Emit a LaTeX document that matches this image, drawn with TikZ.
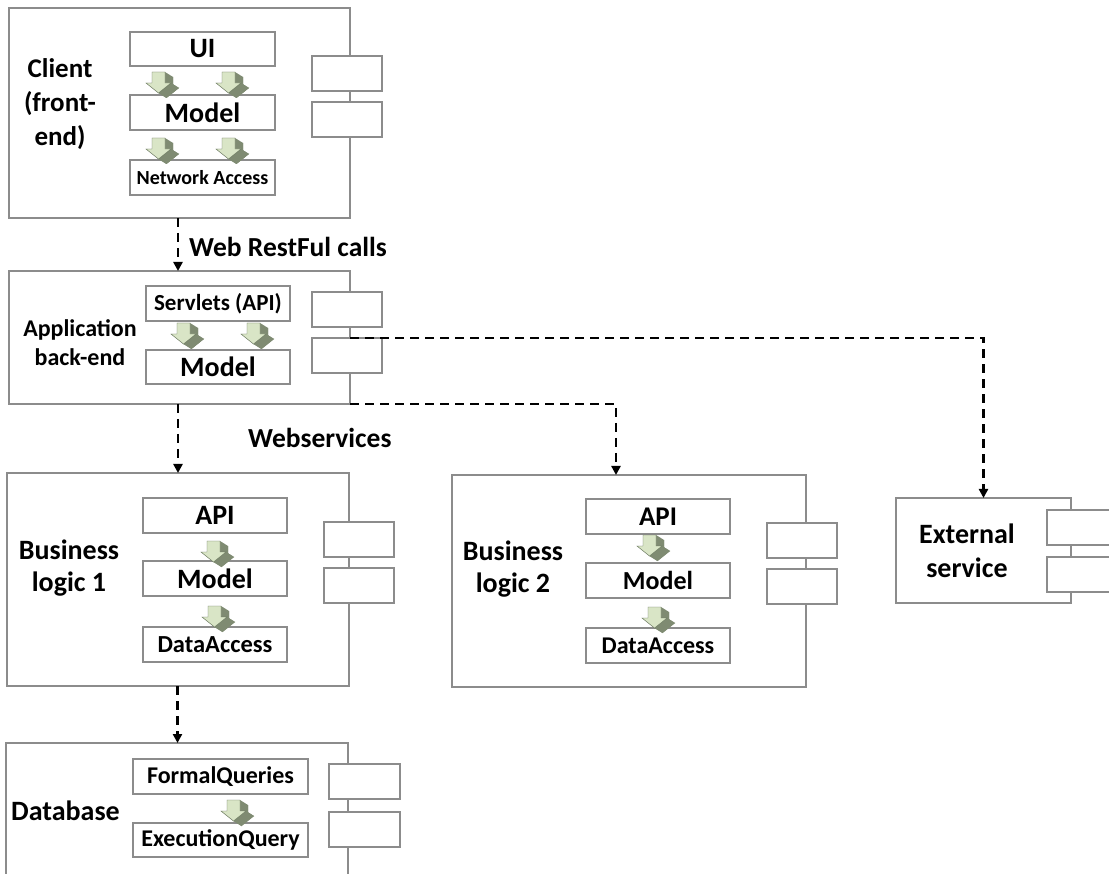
\documentclass[tikz,border=0pt]{standalone}
\usepackage{fontspec}
\setmainfont{Carlito}
\usetikzlibrary{arrows.meta}
\definecolor{boxgray}{HTML}{8C8C8C}
\definecolor{arrlight}{HTML}{D9E5C6}
\definecolor{arrdark}{HTML}{7F8B72}
\definecolor{arredge}{HTML}{65735A}
\tikzset{
  comp/.style={draw=boxgray, line width=1.3pt, fill=white, anchor=north west, inner sep=0pt, outer sep=0pt},
  port/.style={draw=boxgray, line width=1.2pt, fill=white, anchor=north west, inner sep=0pt, outer sep=0pt, minimum width=70pt, minimum height=35pt},
  layer/.style={draw=boxgray, line width=1.2pt, fill=white, anchor=north west, inner sep=0pt, outer sep=0pt, font=\bfseries, text=black},
  biglabel/.style={font=\bfseries\fontsize{27}{34}\selectfont, align=center, inner sep=0pt},
  conn/.style={line width=2.8pt, dash pattern=on 9pt off 6pt, -{Triangle[length=9pt,width=9pt]}},
  darr/.pic={
    \fill[arrdark] (8,5)--(21,5)--(21,16)--(27,16)--(14.5,26)--(2,16)--(8,16)--cycle;
    \fill[arrdark] (13,0)--(21,5)--(21,16)--(13,11)--cycle;
    \fill[arrdark] (13,11)--(21,16)--(27,16)--(19,11)--cycle;
    \fill[arrdark] (19,11)--(27,16)--(14.5,26)--(6.5,21)--cycle;
    \fill[arrdark] (6.5,21)--(14.5,26)--(2,16)--(-6,11)--cycle;
    \draw[arredge, line width=0.4pt, fill=arrlight] (0,0)--(13,0)--(13,11)--(19,11)--(6.5,21)--(-6,11)--(0,11)--cycle;
  }
}
\begin{document}
\begin{tikzpicture}[x=1pt,y=-1pt]
\path[use as bounding box, clip] (0,0) rectangle (1109,874);
\fill[white] (0,0) rectangle (1109,874);

% outer components
\node[comp, minimum width=341pt, minimum height=210pt] (client) at (9,8) {};
\node[comp, minimum width=341pt, minimum height=133pt] (app) at (9,271) {};
\node[comp, minimum width=342pt, minimum height=213pt] (bl1) at (7,473) {};
\node[comp, minimum width=354pt, minimum height=212pt] (bl2) at (452,475) {};
\node[comp, minimum width=175pt, minimum height=105pt] (ext) at (896,498) {};
\node[comp, minimum width=342pt, minimum height=160pt] (db) at (6,743) {};

% ports
\node[port] (cp1) at (312,56) {};
\node[port] (cp2) at (312,102) {};
\node[port] (ap1) at (312,292) {};
\node[port] (ap2) at (312,338) {};
\node[port] (b1p1) at (324,522) {};
\node[port] (b1p2) at (324,568) {};
\node[port] (b2p1) at (767,523) {};
\node[port] (b2p2) at (767,569) {};
\node[port] (ep1) at (1047,510) {};
\node[port] (ep2) at (1047,557) {};
\node[port, minimum width=71pt] (dp1) at (329,764) {};
\node[port, minimum width=71pt] (dp2) at (329,812) {};

% client layers
\node[layer, minimum width=145pt, minimum height=34pt, font=\bfseries\fontsize{28}{30}\selectfont] (cui) at (130,32) {UI};
\node[layer, minimum width=145pt, minimum height=35pt, font=\bfseries\fontsize{28}{30}\selectfont] (cmodel) at (130,95) {Model};
\node[layer, minimum width=145pt, minimum height=35pt, font=\bfseries\fontsize{20}{22}\selectfont] (cnet) at (130,160) {Network Access};
% app layers
\node[layer, minimum width=144pt, minimum height=35pt, font=\bfseries\fontsize{23}{25}\selectfont] (aserv) at (146,286) {Servlets (API)};
\node[layer, minimum width=144pt, minimum height=34pt, font=\bfseries\fontsize{28}{30}\selectfont] (amodel) at (146,350) {Model};
% bl1 layers
\node[layer, minimum width=144pt, minimum height=35pt, font=\bfseries\fontsize{28}{30}\selectfont] (b1api) at (143,498) {API};
\node[layer, minimum width=144pt, minimum height=35pt, font=\bfseries\fontsize{28}{30}\selectfont] (b1model) at (143,561) {Model};
\node[layer, minimum width=144pt, minimum height=35pt, font=\bfseries\fontsize{24.5}{26}\selectfont] (b1da) at (143,627) {DataAccess};
% bl2 layers
\node[layer, minimum width=144pt, minimum height=35pt, font=\bfseries\fontsize{27}{29}\selectfont] (b2api) at (586,499) {API};
\node[layer, minimum width=144pt, minimum height=35pt, font=\bfseries\fontsize{26}{28}\selectfont] (b2model) at (586,563) {Model};
\node[layer, minimum width=144pt, minimum height=35pt, font=\bfseries\fontsize{24}{26}\selectfont] (b2da) at (586,628) {DataAccess};
% db layers
\node[layer, minimum width=175pt, minimum height=35pt, font=\bfseries\fontsize{24}{26}\selectfont] (dfq) at (133,759) {FormalQueries};
\node[layer, minimum width=175pt, minimum height=34pt, font=\bfseries\fontsize{24}{26}\selectfont] (deq) at (133,823) {ExecutionQuery};

% 3D arrows
\pic at (152,72) {darr};
\pic at (222,72) {darr};
\pic at (152,138) {darr};
\pic at (222,138) {darr};
\pic at (177,323) {darr};
\pic at (247,323) {darr};
\pic at (207,541) {darr};
\pic at (208,606) {darr};
\pic at (643,535) {darr};
\pic at (648,607) {darr};
\pic at (227,800) {darr};

% component labels
\node[biglabel] (lclient) at (60,104) {Client\\(front-\\end)};
\node[biglabel, font=\bfseries\fontsize{24}{29}\selectfont] (lapp) at (80,343) {Application\\back-end};
\node[biglabel, font=\bfseries\fontsize{28}{32}\selectfont] (lbl1) at (69,568) {Business\\logic 1};
\node[biglabel, font=\bfseries\fontsize{28}{32}\selectfont] (lbl2) at (513,569) {Business\\logic 2};
\node[biglabel, font=\bfseries\fontsize{28}{34}\selectfont] (lext) at (967,551) {External\\service};
\node[biglabel, font=\bfseries\fontsize{28}{32}\selectfont, anchor=west] (ldb) at (11,811) {Database};

% connector labels
\node[biglabel, font=\bfseries\fontsize{27.5}{30}\selectfont, anchor=west] (lrest) at (189,247) {Web RestFul calls};
\node[biglabel, font=\bfseries\fontsize{27.5}{30}\selectfont, anchor=west] (lws) at (248,438) {Webservices};

% connectors
\coordinate (c1) at ([xshift=-1.5pt]client.south);
\draw[conn] (c1) -- (c1 |- app.north);
\coordinate (c2) at ([xshift=-1.5pt]app.south);
\draw[conn] (c2) -- (c2 |- bl1.north);
\coordinate (c3) at ([xshift=-0.5pt]bl1.south);
\draw[conn] (c3) -- (c3 |- db.north);
\coordinate (c4) at ([xshift=-13pt]bl2.north);
\draw[conn] (app.south east) -| (c4);
\coordinate (c5) at (app.east |- ap2.north);
\draw[conn] (c5) -| (ext.north);
\end{tikzpicture}
\end{document}
